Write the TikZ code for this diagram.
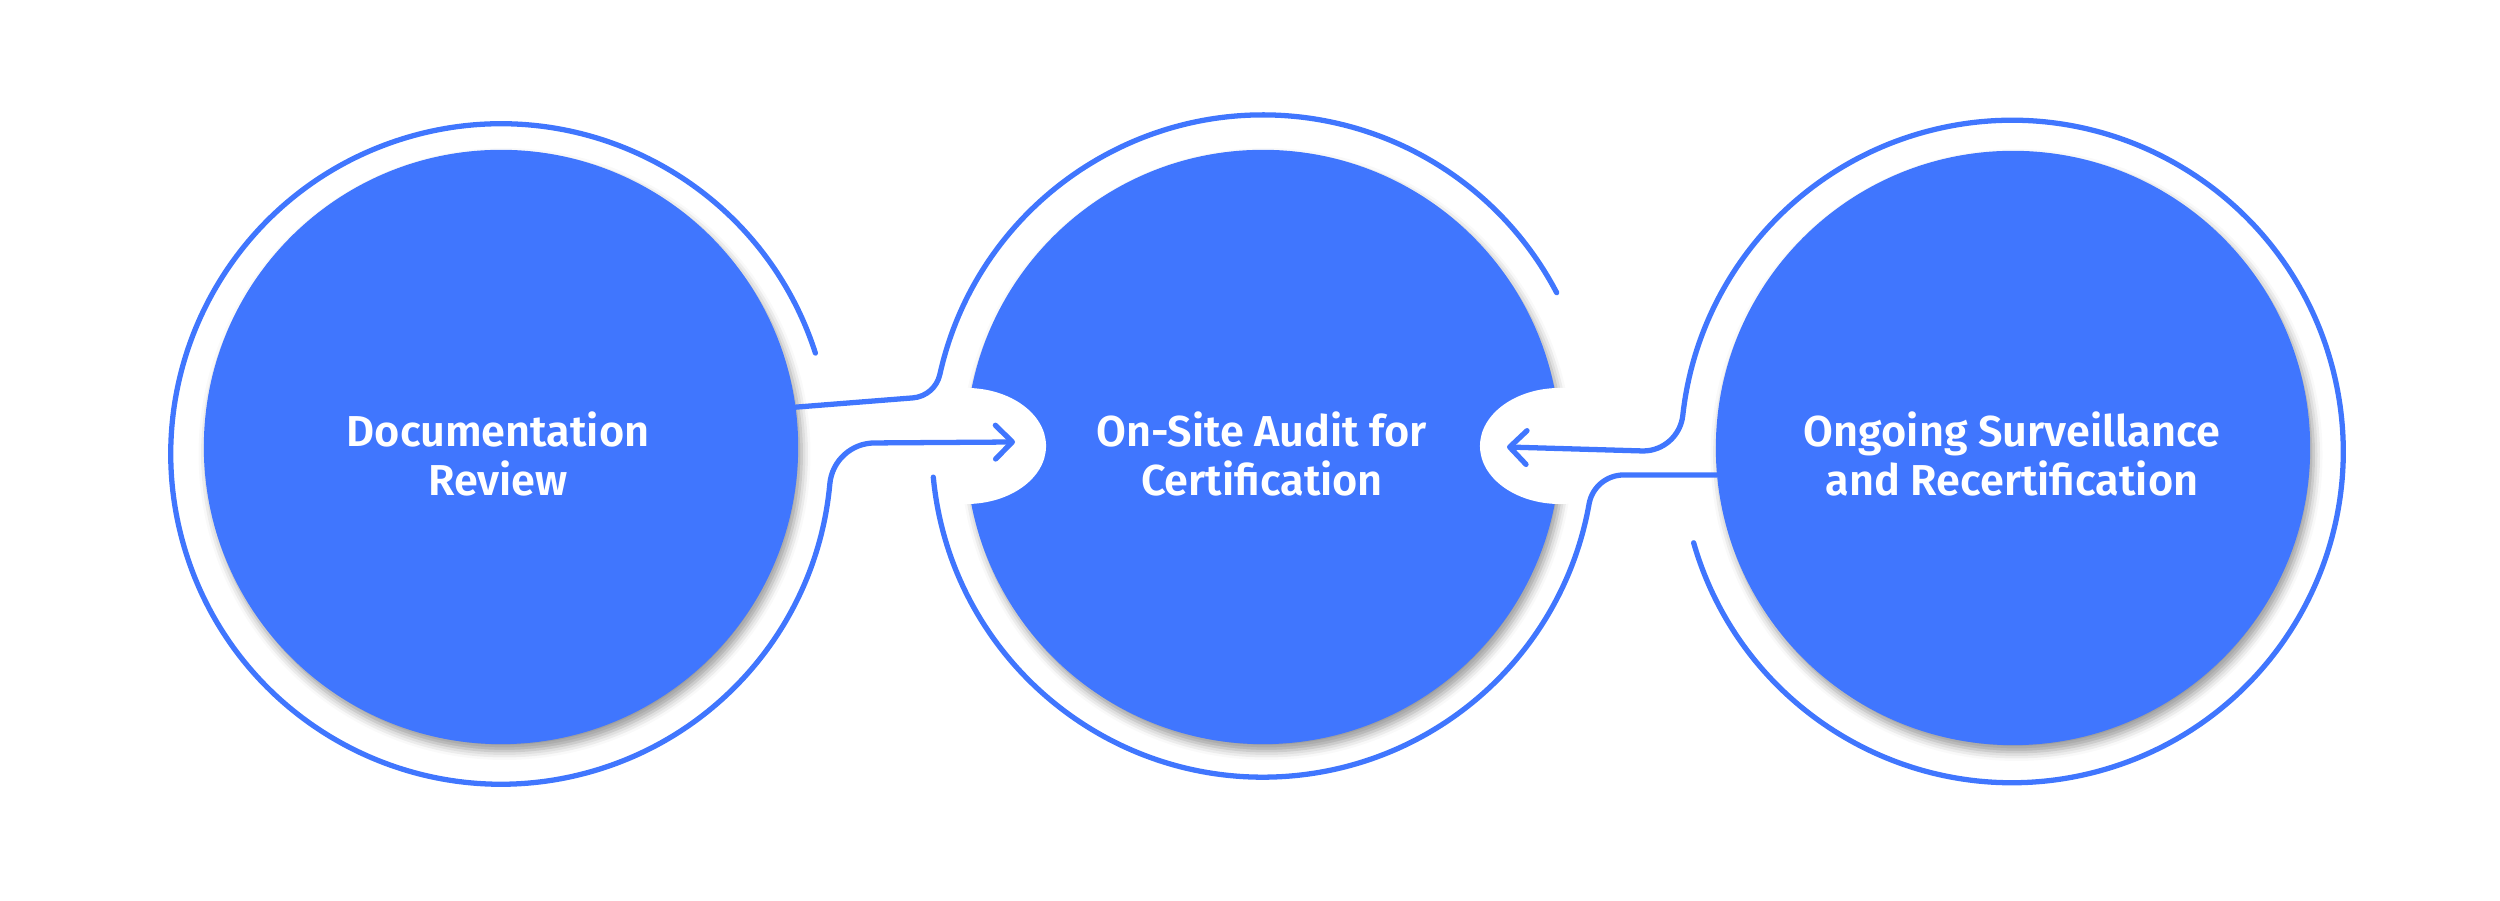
\documentclass[tikz,border=0pt]{standalone}
\usepackage{fontspec}
\newfontfamily\lab{Fira Sans SemiBold}
\usetikzlibrary{arrows.meta,shadows.blur}
\definecolor{bl}{RGB}{64,118,254}
\begin{document}
\begin{tikzpicture}[x=0.01cm,y=0.01cm,
  disc/.style={circle,fill=bl,minimum size=5.94cm,inner sep=0pt,
    blur shadow={shadow xshift=1pt,shadow yshift=-2pt,shadow blur radius=2.5pt,shadow opacity=40}},
  ring/.style={draw=bl,line width=1.5pt,line cap=round},
  tipped/.style={-{Straight Barb[length=4.8pt,width=9.6pt,round]}},
  lbl/.style={text=white,align=center,inner sep=0pt,font=\lab\fontsize{12.3}{14.2}\selectfont}]
\useasboundingbox (0,0) rectangle (2500,901);
% ring centres
\coordinate (r1) at (501,447);
\coordinate (r2) at (1263,455);
\coordinate (r3) at (2012,449.5);
% discs
\node[disc] (d1) at (501,454) {};
\node[disc] (d2) at (1263,454) {};
\node[disc] (d3) at (2013,453) {};
% notches of the middle disc
\fill[white] (966,455) ellipse[x radius=0.8cm,y radius=0.58cm];
\fill[white] (1560,455) ellipse[x radius=0.8cm,y radius=0.58cm];
% labels
\node[lbl] (t1) at (498,447) {Documentation\\Review};
\node[lbl] (t2) at (1262,447) {On-Site Audit for\\Certification};
\node[lbl] (t3) at (2012,447) {Ongoing Surveillance\\and Recertification};
% arrow tips
\coordinate (tipL) at (1015,459);
\coordinate (tipR) at (1507,454);
% connector: left disc -> middle ring (upper)
\draw[ring] ([shift={(7.7:2.97cm)}]d1.center) -- (912.9,503.1)
  arc[start angle=274.5,end angle=347.5,radius=0.30cm]
  arc[start angle=167.5,end angle=27.6,radius=3.31cm];
% connector: left ring -> arrow into middle disc
\draw[ring,tipped] ([shift={(17.8:3.30cm)}]r1)
  arc[start angle=17.8,end angle=354.8,radius=3.30cm]
  arc[start angle=174.8,end angle=90,radius=0.45cm] -- (tipL);
% connector: middle ring (lower) -> right disc
\draw[ring] ([shift={(185.4:3.31cm)}]r2)
  arc[start angle=185.4,end angle=349.93,radius=3.31cm]
  arc[start angle=169.93,end angle=90,radius=0.35cm]
  -- ([shift={(185.2:2.97cm)}]d3.center);
% connector: right ring -> arrow into middle disc
\draw[ring,tipped] ([shift={(196:3.31cm)}]r3)
  arc[start angle=196,end angle=533.73,radius=3.31cm]
  arc[start angle=-6.27,end angle=-90,radius=0.40cm] -- (tipR);
\end{tikzpicture}
\end{document}
